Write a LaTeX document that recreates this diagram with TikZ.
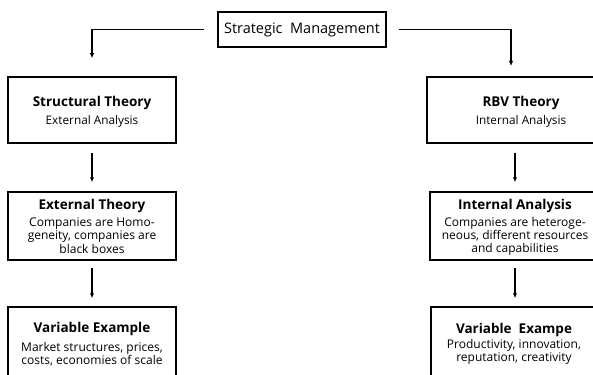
\documentclass[tikz,border=0pt]{standalone}
\usepackage{fontspec}
\setmainfont{Open Sans}
\usetikzlibrary{arrows.meta}
\tikzset{
  box/.style={draw, line width=1.5pt, minimum width=168pt, align=center, inner sep=0pt,
    font=\fontsize{12}{13.3}\selectfont},
  arr/.style={line width=1.2pt, -{Latex[length=5pt,width=4.5pt]}},
}
\newcommand{\ttl}[1]{{\fontsize{13.5}{15}\selectfont\bfseries #1}}
\newcommand{\sub}[1]{{\fontsize{11.8}{13}\selectfont #1}}
\begin{document}
\begin{tikzpicture}[x=1pt,y=1pt]
\useasboundingbox (0,0) rectangle (593,-374);
\clip (0,0) rectangle (593,-374);
\node[box, minimum height=35pt, font=\fontsize{14.5}{16}\selectfont] (top) at (302,-29.5) {Strategic\ \ Management};
\node[box, minimum height=66pt] (L1) at (92,-110) {\rule{0pt}{14pt}\ttl{Structural Theory}\\[4pt] \sub{External Analysis}};
\node[box, minimum height=68pt] (L2) at (92,-226) {\ttl{External Theory}\\[4pt] Companies are Homo-\\ geneity, companies are\\ black boxes};
\node[box, minimum height=74pt] (L3) at (92,-344) {\ttl{Variable Example}\\[6pt] Market structures, prices,\\ costs, economies of scale};
\node[box, minimum width=188pt, minimum height=66pt] (R1) at (521,-110) {\rule{0pt}{14pt}\ttl{RBV Theory}\\[4pt] \sub{Internal Analysis}};
\node[box, minimum width=170pt, minimum height=68pt] (R2) at (515,-226) {\rule{0pt}{13pt}\ttl{Internal Analysis}\\[3.5pt] Companies are heteroge-\\ neous, different resources\\ and capabilities};
\node[box, minimum width=166pt, minimum height=74pt] (R3) at (514,-344) {\ttl{Variable\ \ Exampe}\\[2pt] Productivity, innovation,\\ reputation, creativity};
\coordinate (rdrop) at (511,-66);
\draw[arr, shorten <=13pt, shorten >=18pt] (top.west) -| (L1.north);
\draw[arr, shorten <=12pt] (top.east) -| (rdrop);
\draw[arr, shorten <=9pt, shorten >=9pt] (L1) -- (L2);
\draw[arr, shorten <=7pt, shorten >=8pt] (L2) -- (L3);
\draw[arr, shorten <=9pt, shorten >=9pt] (R1.south -| R2.north) -- (R2.north);
\draw[arr, shorten <=7pt, shorten >=8pt] (R2.south) -- (R2.south |- R3.north);
\end{tikzpicture}
\end{document}
